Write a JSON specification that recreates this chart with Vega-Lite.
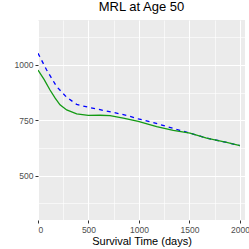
{
  "$schema": "https://vega.github.io/schema/vega-lite/v6.json",
  "width": 207,
  "height": 200,
  "autosize": "none",
  "padding": {"left": 38, "top": 20, "right": 4, "bottom": 29},
  "background": "white",
  "title": {"text": "MRL at Age 50", "fontSize": 13, "fontWeight": "normal", "font": "Liberation Sans", "color": "black", "anchor": "middle", "offset": 6},
  "config": {
    "view": {"fill": "#EBEBEB", "stroke": null},
    "axis": {"gridColor": "white", "domain": false, "labelFont": "Liberation Sans", "titleFont": "Liberation Sans", "labelColor": "#4D4D4D", "labelFontSize": 8.5, "tickColor": "#333333", "tickSize": 3, "titleFontWeight": "normal", "titleColor": "black"}
  },
  "datasets": {
    "curves": [
      {"t": 0, "mrl": 977, "series": "green"},
      {"t": 60, "mrl": 935, "series": "green"},
      {"t": 119, "mrl": 887, "series": "green"},
      {"t": 170, "mrl": 850, "series": "green"},
      {"t": 218, "mrl": 820, "series": "green"},
      {"t": 284, "mrl": 797, "series": "green"},
      {"t": 383, "mrl": 779, "series": "green"},
      {"t": 498, "mrl": 772, "series": "green"},
      {"t": 614, "mrl": 773, "series": "green"},
      {"t": 713, "mrl": 771, "series": "green"},
      {"t": 845, "mrl": 760, "series": "green"},
      {"t": 993, "mrl": 745, "series": "green"},
      {"t": 1175, "mrl": 722, "series": "green"},
      {"t": 1340, "mrl": 705, "series": "green"},
      {"t": 1505, "mrl": 692, "series": "green"},
      {"t": 1670, "mrl": 670, "series": "green"},
      {"t": 1868, "mrl": 650, "series": "green"},
      {"t": 2000, "mrl": 636, "series": "green"},
      {"t": 0, "mrl": 1053, "series": "blue"},
      {"t": 86, "mrl": 977, "series": "blue"},
      {"t": 185, "mrl": 902, "series": "blue"},
      {"t": 284, "mrl": 854, "series": "blue"},
      {"t": 383, "mrl": 822, "series": "blue"},
      {"t": 498, "mrl": 809, "series": "blue"},
      {"t": 614, "mrl": 798, "series": "blue"},
      {"t": 746, "mrl": 786, "series": "blue"},
      {"t": 878, "mrl": 772, "series": "blue"},
      {"t": 993, "mrl": 757, "series": "blue"},
      {"t": 1142, "mrl": 740, "series": "blue"},
      {"t": 1274, "mrl": 722, "series": "blue"},
      {"t": 1406, "mrl": 705, "series": "blue"},
      {"t": 1505, "mrl": 692, "series": "blue"},
      {"t": 1670, "mrl": 670, "series": "blue"},
      {"t": 1868, "mrl": 650, "series": "blue"},
      {"t": 2000, "mrl": 636, "series": "blue"}
    ]
  },
  "layer": [
    {
      "data": {"name": "curves"},
      "mark": {"type": "line", "opacity": 0, "clip": true},
      "encoding": {
        "x": {"field": "t", "type": "quantitative", "scale": {"domain": [0, 2050], "nice": false, "zero": false}, "axis": {"orient": "bottom", "values": [250, 750, 1250, 1750], "grid": true, "gridWidth": 0.6, "labels": false, "ticks": false, "title": null}},
        "y": {"field": "mrl", "type": "quantitative", "scale": {"domain": [300, 1203], "nice": false, "zero": false}, "axis": {"orient": "left", "values": [375, 625, 875, 1125], "grid": true, "gridWidth": 0.6, "labels": false, "ticks": false, "title": null}},
        "detail": {"field": "series"}
      }
    },
    {
      "data": {"name": "curves"},
      "transform": [{"filter": "datum.series === 'blue'"}],
      "mark": {"type": "line", "clip": true, "strokeWidth": 1.3, "color": "#0000FF", "strokeDash": [4, 4]},
      "encoding": {
        "x": {"field": "t", "type": "quantitative", "axis": {"orient": "bottom", "values": [0, 500, 1000, 1500, 2000], "format": "d", "grid": true, "gridWidth": 1.1, "title": "Survival Time (days)", "titleFontSize": 11, "titlePadding": 2, "labelPadding": 2}},
        "y": {"field": "mrl", "type": "quantitative", "axis": {"orient": "left", "values": [500, 750, 1000], "format": "d", "grid": true, "gridWidth": 1.1, "title": null, "labelPadding": 2}},
        "order": {"field": "t", "type": "quantitative"}
      }
    },
    {
      "data": {"name": "curves"},
      "transform": [{"filter": "datum.series === 'green'"}],
      "mark": {"type": "line", "clip": true, "strokeWidth": 1.3, "color": "#139A13"},
      "encoding": {
        "x": {"field": "t", "type": "quantitative", "axis": null},
        "y": {"field": "mrl", "type": "quantitative", "axis": null},
        "order": {"field": "t", "type": "quantitative"}
      }
    }
  ],
  "resolve": {"axis": {"x": "independent", "y": "independent"}}
}
